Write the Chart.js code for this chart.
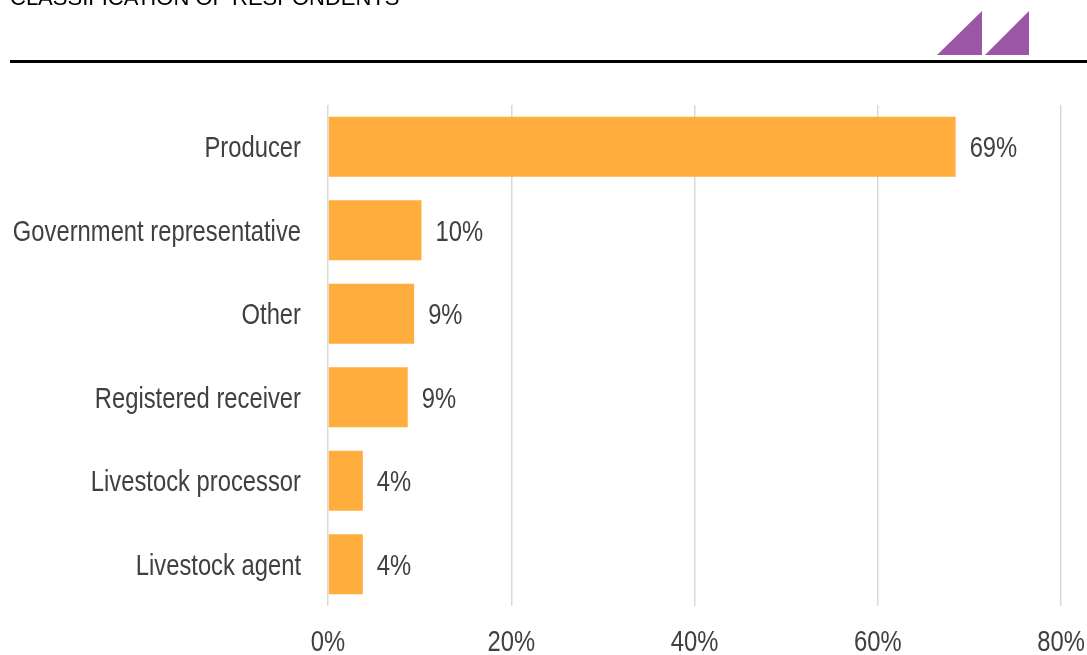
<!DOCTYPE html>
<html>
<head>
<meta charset="utf-8">
<title>Classification of respondents</title>
<script src="https://cdn.jsdelivr.net/npm/chart.js@4/dist/chart.umd.min.js"></script>
<style>
  html, body { margin: 0; padding: 0; background: #ffffff; }
  #wrap { position: relative; width: 1087px; height: 655px; overflow: hidden; }
  canvas { display: block; }
</style>
</head>
<body>
<div id="wrap"><canvas id="chart" width="1087" height="655"></canvas></div>
<script>
// Respondent categories and their share of all respondents (%)
const categories = [
  'Producer',
  'Government representative',
  'Other',
  'Registered receiver',
  'Livestock processor',
  'Livestock agent'
];
const shares = [68.5, 10.2, 9.4, 8.7, 3.8, 3.8];
const tickValues = [0, 20, 40, 60, 80];
const chartTitle = 'CLASSIFICATION OF RESPONDENTS';

const LABEL_FONT = "29px 'Liberation Sans', Arial, sans-serif";
const NARROW = 0.82;          // horizontal squeeze giving a narrow sans look
const CAP_HALF = 10.4;        // half the cap height at 29px, for vertical centring
const TEXT_COLOR = '#404040';
const BAR_COLOR = '#FFAD3C';

// Draw a label with the narrow horizontal squeeze
function narrowText(ctx, text, x, y, align) {
  ctx.save();
  ctx.translate(x, y);
  ctx.scale(NARROW, 1);
  ctx.textAlign = align;
  ctx.textBaseline = 'alphabetic';
  ctx.fillText(text, 0, 0);
  ctx.restore();
}

// Header: title, rule and the two-triangle mark
const headerPlugin = {
  id: 'header',
  beforeDraw(chart) {
    const ctx = chart.ctx;
    ctx.save();
    ctx.fillStyle = '#000000';
    ctx.font = "22px 'Liberation Sans', Arial, sans-serif";
    ctx.textBaseline = 'alphabetic';
    ctx.textAlign = 'left';
    ctx.fillText(chartTitle, 10, 5);

    ctx.fillRect(10, 60, 1077, 3);

    ctx.fillStyle = '#9B57A5';
    ctx.beginPath();
    ctx.moveTo(937, 55); ctx.lineTo(982, 11); ctx.lineTo(982, 55); ctx.closePath();
    ctx.moveTo(985, 55); ctx.lineTo(1029, 11); ctx.lineTo(1029, 55); ctx.closePath();
    ctx.fill();
    ctx.restore();
  }
};

// Axis labels and value labels, positioned from the chart's own scales and bars
const labelsPlugin = {
  id: 'labels',
  afterDatasetsDraw(chart) {
    const ctx = chart.ctx;
    const xs = chart.scales.x;
    const ys = chart.scales.y;
    const meta = chart.getDatasetMeta(0);
    ctx.save();
    ctx.fillStyle = TEXT_COLOR;
    ctx.font = LABEL_FONT;

    // category labels
    chart.data.labels.forEach((lab, i) => {
      narrowText(ctx, lab, ys.right - 27, ys.getPixelForTick(i) + CAP_HALF, 'right');
    });

    // percentage ticks
    xs.ticks.forEach((t, i) => {
      narrowText(ctx, t.value + '%', xs.getPixelForTick(i), xs.top + 35 + CAP_HALF, 'center');
    });

    // value labels at bar ends
    meta.data.forEach((bar, i) => {
      const v = chart.data.datasets[0].data[i];
      narrowText(ctx, Math.round(v) + '%', bar.x + 14, bar.y + CAP_HALF, 'left');
    });
    ctx.restore();
  }
};

new Chart(document.getElementById('chart'), {
  type: 'bar',
  data: {
    labels: categories,
    datasets: [{
      data: shares,
      backgroundColor: BAR_COLOR,
      borderWidth: 0,
      barPercentage: 0.72,
      categoryPercentage: 1.0
    }]
  },
  options: {
    indexAxis: 'y',
    responsive: false,
    animation: false,
    devicePixelRatio: 1,
    layout: { padding: { top: 105, right: 26, bottom: 0, left: 0 } },
    plugins: {
      legend: { display: false },
      tooltip: { enabled: false },
      title: { display: false }
    },
    scales: {
      x: {
        min: 0,
        max: 80,
        afterBuildTicks(scale) {
          scale.ticks = tickValues.map(v => ({ value: v }));
        },
        afterFit(scale) { scale.height = 49; },
        ticks: { display: false },
        grid: { color: '#D9D9D9', lineWidth: 1.5, drawTicks: false },
        border: { display: false }
      },
      y: {
        afterFit(scale) { scale.width = 328; },
        ticks: { display: false },
        grid: { display: false, drawTicks: false },
        border: { display: false }
      }
    }
  },
  plugins: [headerPlugin, labelsPlugin]
});
</script>
</body>
</html>
